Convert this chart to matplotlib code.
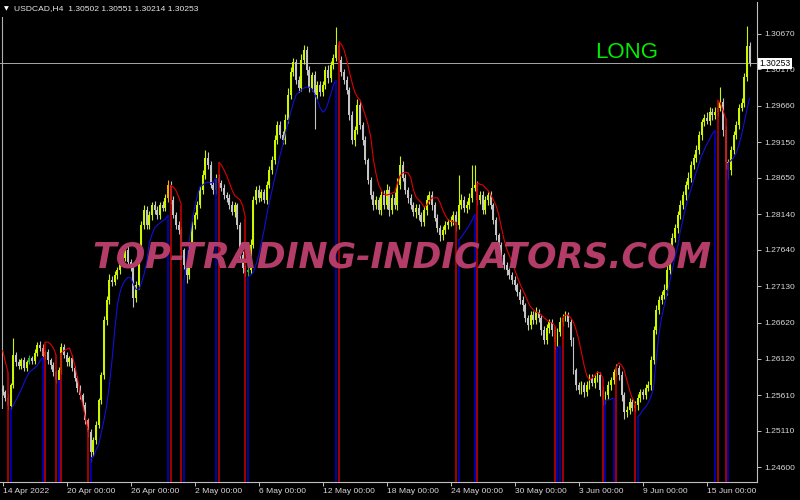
import numpy as np
import matplotlib
matplotlib.use("Agg")
import matplotlib.pyplot as plt
from matplotlib.transforms import blended_transform_factory

# ---------------- data ----------------
symbol = "USDCAD,H4"
first_open = 1.2571

closes = [
    1.2565, 1.2557, 1.2546, 1.2575, 1.2617, 1.2607, 1.2602, 1.2610, 1.2599, 1.2607,
    1.2613, 1.2609, 1.2620, 1.2631, 1.2627, 1.2616, 1.2621, 1.2610, 1.2603, 1.2593,
    1.2582, 1.2596, 1.2628, 1.2617, 1.2607, 1.2613, 1.2599, 1.2585, 1.2571, 1.2561,
    1.2547, 1.2526, 1.2509, 1.2481, 1.2498, 1.2519, 1.2554, 1.2589, 1.2666, 1.2694,
    1.2722, 1.2719, 1.2729, 1.2736, 1.2747, 1.2753, 1.2764, 1.2747, 1.2739, 1.2697,
    1.2715, 1.2757, 1.2799, 1.2820, 1.2799, 1.2813, 1.2827, 1.2820, 1.2813, 1.2827,
    1.2823, 1.2837, 1.2855, 1.2834, 1.2813, 1.2799, 1.2792, 1.2764, 1.2743, 1.2729,
    1.2764, 1.2799, 1.2813, 1.2827, 1.2848, 1.2869, 1.2893, 1.2883, 1.2855, 1.2848,
    1.2865, 1.2858, 1.2851, 1.2841, 1.2837, 1.2827, 1.2817, 1.2827, 1.2799, 1.2757,
    1.2739, 1.2733, 1.2736, 1.2771, 1.2834, 1.2848, 1.2837, 1.2845, 1.2834, 1.2855,
    1.2876, 1.2890, 1.2918, 1.2939, 1.2925, 1.2918, 1.2946, 1.2981, 1.3013, 1.3027,
    1.3002, 1.2991, 1.3030, 1.3044, 1.3016, 1.2991, 1.3009, 1.2981, 1.2995, 1.2985,
    1.2995, 1.3016, 1.3005, 1.3023, 1.3033, 1.3051, 1.3030, 1.3013, 1.3002, 1.2988,
    1.2953, 1.2918, 1.2932, 1.2967, 1.2939, 1.2918, 1.2890, 1.2862, 1.2841, 1.2827,
    1.2834, 1.2820, 1.2841, 1.2827, 1.2848, 1.2820, 1.2837, 1.2827, 1.2855, 1.2883,
    1.2865, 1.2848, 1.2837, 1.2827, 1.2817, 1.2823, 1.2813, 1.2803, 1.2820, 1.2834,
    1.2841, 1.2827, 1.2809, 1.2795, 1.2785, 1.2792, 1.2799, 1.2803, 1.2806, 1.2813,
    1.2799, 1.2827, 1.2834, 1.2823, 1.2827, 1.2837, 1.2851, 1.2855, 1.2834, 1.2841,
    1.2820, 1.2834, 1.2841, 1.2827, 1.2806, 1.2785, 1.2771, 1.2757, 1.2743, 1.2736,
    1.2729, 1.2722, 1.2715, 1.2705, 1.2694, 1.2687, 1.2669, 1.2659, 1.2673, 1.2666,
    1.2677, 1.2669, 1.2652, 1.2638, 1.2655, 1.2663, 1.2652, 1.2635, 1.2649, 1.2663,
    1.2669, 1.2673, 1.2663, 1.2638, 1.2596, 1.2575, 1.2568, 1.2575, 1.2565, 1.2575,
    1.2585, 1.2578, 1.2585, 1.2589, 1.2568, 1.2554, 1.2561, 1.2575, 1.2582, 1.2593,
    1.2599, 1.2589, 1.2561, 1.2537, 1.2540, 1.2551, 1.2543, 1.2547, 1.2557, 1.2565,
    1.2561, 1.2571, 1.2575, 1.2610, 1.2652, 1.2680, 1.2694, 1.2701, 1.2708, 1.2736,
    1.2764, 1.2781, 1.2795, 1.2813, 1.2827, 1.2841, 1.2855, 1.2865, 1.2883, 1.2893,
    1.2904, 1.2925, 1.2943, 1.2949, 1.2945, 1.2957, 1.2953, 1.2957, 1.2963, 1.2971,
    1.2932, 1.2887, 1.2876, 1.2904, 1.2925, 1.2939, 1.2963, 1.2970, 1.3006, 1.30502,
    1.30253,
]

hi_pips = [
    4, 3, 5, 3, 24, 4, 5, 3, 4, 3,
    4, 3, 5, 4, 6, 5, 3, 4, 3, 4,
    3, 4, 6, 5, 4, 3, 4, 3, 3, 4,
    3, 4, 3, 5, 4, 5, 3, 4, 6, 5,
    8, 6, 5, 4, 7, 6, 8, 5, 4, 3,
    5, 4, 6, 7, 5, 6, 4, 5, 6, 4,
    5, 6, 7, 6, 5, 4, 5, 4, 3, 5,
    6, 5, 4, 6, 5, 7, 11, 8, 5, 4,
    6, 5, 4, 5, 4, 6, 5, 4, 3, 4,
    5, 4, 6, 8, 5, 6, 7, 5, 4, 6,
    5, 6, 7, 5, 6, 5, 8, 10, 7, 6,
    5, 6, 8, 7, 5, 6, 4, 5, 6, 5,
    6, 5, 7, 6, 5, 25, 6, 5, 4, 5,
    4, 5, 6, 8, 5, 4, 5, 3, 4, 5,
    6, 4, 5, 7, 9, 5, 6, 8, 10, 12,
    5, 6, 4, 5, 4, 5, 6, 4, 5, 7,
    6, 5, 4, 5, 4, 6, 5, 4, 5, 6,
    5, 42, 8, 6, 5, 7, 32, 28, 6, 5,
    6, 5, 4, 5, 3, 4, 3, 4, 3, 4,
    3, 4, 5, 3, 4, 5, 3, 4, 6, 5,
    7, 5, 4, 5, 6, 5, 4, 5, 6, 7,
    5, 6, 4, 5, 4, 3, 4, 5, 4, 5,
    6, 5, 4, 5, 4, 5, 6, 5, 4, 5,
    6, 4, 5, 4, 5, 6, 4, 5, 6, 5,
    4, 5, 6, 5, 6, 7, 5, 6, 8, 9,
    8, 7, 6, 5, 7, 6, 5, 8, 6, 5,
    7, 6, 5, 6, 8, 7, 6, 7, 9, 21,
    6, 5, 4, 6, 5, 6, 5, 7, 6, 28,
    4.9,
]

lo_pips = [
    4, 5, 6, 5, 4, 6, 5, 4, 5, 4,
    3, 4, 5, 4, 5, 6, 4, 5, 6, 5,
    4, 6, 5, 4, 5, 6, 4, 5, 6, 5,
    6, 5, 7, 14, 6, 5, 4, 6, 5, 7,
    5, 6, 4, 5, 6, 5, 4, 6, 5, 13,
    6, 5, 4, 5, 6, 5, 7, 5, 6, 5,
    4, 5, 6, 5, 4, 6, 5, 7, 6, 11,
    5, 4, 6, 5, 4, 5, 6, 5, 4, 6,
    5, 6, 4, 5, 6, 5, 4, 7, 5, 6,
    7, 5, 6, 5, 4, 5, 6, 5, 4, 5,
    4, 5, 6, 5, 4, 6, 5, 4, 5, 6,
    5, 6, 4, 5, 7, 6, 5, 48, 6, 5,
    6, 5, 7, 6, 5, 4, 6, 5, 6, 5,
    7, 6, 8, 5, 6, 7, 5, 6, 5, 7,
    6, 5, 7, 6, 5, 8, 6, 5, 7, 6,
    5, 6, 7, 5, 6, 8, 7, 6, 5, 7,
    6, 7, 5, 6, 8, 7, 6, 5, 6, 7,
    8, 6, 5, 6, 7, 5, 6, 5, 7, 6,
    5, 6, 7, 5, 6, 7, 5, 6, 5, 7,
    6, 5, 7, 6, 5, 8, 6, 7, 5, 6,
    5, 6, 7, 6, 5, 7, 8, 9, 6, 5,
    6, 5, 7, 8, 6, 7, 5, 6, 7, 5,
    6, 5, 7, 6, 8, 7, 5, 6, 7, 5,
    6, 7, 8, 9, 7, 6, 5, 6, 7, 6,
    5, 6, 5, 7, 6, 5, 6, 5, 6, 7,
    6, 5, 6, 7, 5, 6, 7, 5, 6, 5,
    6, 5, 7, 6, 5, 6, 7, 5, 6, 5,
    8, 10, 12, 7, 6, 5, 6, 5, 6, 5,
    3.9,
]

# trailing line of the indicator (red above price in down legs, blue below in up legs)
trail = [
    1.2624, 1.2607, 1.2593, 1.2541, 1.2547, 1.2554, 1.2561, 1.2569, 1.2578, 1.2586,
    1.2593, 1.2596, 1.2599, 1.2602, 1.2609, 1.2614, 1.2635, 1.2635, 1.2632, 1.2627,
    1.2617, 1.2582, 1.2620, 1.2623, 1.2625, 1.2627, 1.2617, 1.2603, 1.2585, 1.2565,
    1.2547, 1.2529, 1.2512, 1.2473, 1.2474, 1.2484, 1.2492, 1.2509, 1.2526, 1.2547,
    1.2575, 1.2610, 1.2652, 1.2687, 1.2705, 1.2716, 1.2722, 1.2726, 1.2725, 1.2716,
    1.2709, 1.2708, 1.2718, 1.2730, 1.2747, 1.2775, 1.2786, 1.2795, 1.2799, 1.2802,
    1.2805, 1.2807, 1.2813, 1.2855, 1.2852, 1.2847, 1.2838, 1.2827, 1.2722, 1.2747,
    1.2778, 1.2803, 1.2824, 1.2840, 1.2853, 1.2855, 1.2858, 1.2859, 1.2858, 1.2859,
    1.2865, 1.2887, 1.2883, 1.2876, 1.2868, 1.2858, 1.2848, 1.2840, 1.2837, 1.2834,
    1.2826, 1.2809, 1.2726, 1.2729, 1.2733, 1.2744, 1.2757, 1.2774, 1.2792, 1.2813,
    1.2831, 1.2848, 1.2865, 1.2880, 1.2897, 1.2911, 1.2928, 1.2943, 1.2957, 1.2971,
    1.2981, 1.2985, 1.2988, 1.2991, 1.2992, 1.2992, 1.2989, 1.2982, 1.2974, 1.2963,
    1.2957, 1.2960, 1.2970, 1.2982, 1.2995, 1.3002, 1.3055, 1.3052, 1.3044, 1.3030,
    1.3013, 1.2998, 1.2985, 1.2978, 1.2974, 1.2963, 1.2952, 1.2939, 1.2922, 1.2890,
    1.2870, 1.2855, 1.2847, 1.2842, 1.2841, 1.2842, 1.2844, 1.2845, 1.2858, 1.2868,
    1.2872, 1.2873, 1.2872, 1.2865, 1.2848, 1.2838, 1.2834, 1.2830, 1.2824, 1.2827,
    1.2833, 1.2837, 1.2837, 1.2837, 1.2830, 1.2820, 1.2812, 1.2806, 1.2805, 1.2803,
    1.2803, 1.2778, 1.2782, 1.2788, 1.2793, 1.2799, 1.2806, 1.2814, 1.2858, 1.2856,
    1.2855, 1.2851, 1.2847, 1.2841, 1.2834, 1.2826, 1.2813, 1.2795, 1.2778, 1.2765,
    1.2756, 1.2746, 1.2736, 1.2726, 1.2716, 1.2708, 1.2700, 1.2691, 1.2684, 1.2680,
    1.2677, 1.2676, 1.2673, 1.2669, 1.2666, 1.2663, 1.2662, 1.2658, 1.2627, 1.2630,
    1.2670, 1.2673, 1.2673, 1.2669, 1.2663, 1.2652, 1.2638, 1.2620, 1.2602, 1.2588,
    1.2582, 1.2585, 1.2589, 1.2593, 1.2592, 1.2585, 1.2554, 1.2554, 1.2555, 1.2557,
    1.2600, 1.2606, 1.2603, 1.2596, 1.2582, 1.2568, 1.2557, 1.2550, 1.2530, 1.2534,
    1.2540, 1.2544, 1.2550, 1.2558, 1.2571, 1.2610, 1.2645, 1.2669, 1.2686, 1.2701,
    1.2718, 1.2736, 1.2753, 1.2768, 1.2789, 1.2806, 1.2823, 1.2837, 1.2848, 1.2861,
    1.2873, 1.2884, 1.2896, 1.2904, 1.2912, 1.2919, 1.2926, 1.2932, 1.2974, 1.2970,
    1.2960, 1.2949, 1.2886, 1.2889, 1.2893, 1.2900, 1.2911, 1.2925, 1.2942, 1.2960,
    1.2977,
]

# first bar of each trend leg; legs alternate down (red) / up (blue), starting down
leg_starts = [0, 3, 16, 21, 22, 33, 63, 68, 81, 92, 126, 171, 178, 208, 210, 226, 230, 238, 268, 272]

pink_bars = [2, 15, 32, 126, 178, 207, 225]
orange_bars = [62, 268, 272]
green_bars = [10, 92]

date_bars = [0, 24, 48, 72, 96, 120, 144, 168, 192, 216, 240, 264]
date_labels = ["14 Apr 2022", "20 Apr 00:00", "26 Apr 00:00", "2 May 00:00", "6 May 00:00",
               "12 May 00:00", "18 May 00:00", "24 May 00:00", "30 May 00:00", "3 Jun 00:00",
               "9 Jun 00:00", "15 Jun 00:00"]
price_ticks = [1.30670, 1.30170, 1.29660, 1.29150, 1.28650, 1.28140, 1.27640,
               1.27130, 1.26620, 1.26120, 1.25610, 1.25110, 1.24600]

signal_text = "LONG"
watermark = "TOP-TRADING-INDICATORS.COM"

# ---------------- drawing ----------------
BULL = "#ccf500"
BEAR = "#c4c4c4"
RED = "#e00000"
BLUE = "#1010d8"
AX = "#c0c0c0"
TXT = "#d8d8d8"

n = len(closes)
x = np.arange(n)
c = np.array(closes)
o = np.array([first_open] + closes[:-1])
h = np.maximum(o, c) + np.array(hi_pips) * 1e-4
l = np.minimum(o, c) - np.array(lo_pips) * 1e-4

cols = [BULL if c[i] >= o[i] else BEAR for i in range(n)]
for i in pink_bars:
    cols[i] = "#e88080"
for i in orange_bars:
    cols[i] = "#ffa500"
for i in green_bars:
    cols[i] = "#30b030"

fig = plt.figure(figsize=(8, 5), dpi=100, facecolor="black")
ax = fig.add_axes([0, 18 / 500, 757 / 800, 480 / 500])
ax.set_facecolor("black")

ax.vlines(x, l, h, colors=cols, linewidth=0.8, zorder=2)
body = c - o
body = np.where(np.abs(body) < 0.00006, 0.00006, body)
ax.bar(x, body, bottom=o, width=0.74, color=cols, linewidth=0, zorder=3)

# trail legs and signal verticals
tr = np.array(trail)
ymin_price = 1.24392
ends = leg_starts[1:] + [n]
for k, (s, e) in enumerate(zip(leg_starts, ends)):
    col = RED if k % 2 == 0 else BLUE
    vcol = "#c00000" if k % 2 == 0 else "#0000c8"
    xs = x[s:e]
    ax.plot(xs, tr[s:e], color=col, lw=0.8, zorder=4, solid_capstyle="butt")
    if k > 0:
        ax.vlines(s, ymin_price, tr[s], colors=vcol, lw=1.2, zorder=4)
    if e < n:
        ax.vlines(e - 1, ymin_price, tr[e - 1], colors=vcol, lw=1.2, zorder=4)

# current price line and label
last = closes[-1]
ax.axhline(last, color="#a8a8a8", lw=0.7, zorder=1)
tb = blended_transform_factory(ax.transAxes, ax.transData)
ax.text(1.003, last, f"{last:.5f}", transform=tb, ha="left", va="center",
        fontsize=6.2, family="Liberation Sans", color="black", zorder=6, clip_on=False,
        bbox=dict(boxstyle="square,pad=0.15", fc="white", ec="none"))

ax.set_xlim(-1.01, 282.8)
ax.set_ylim(ymin_price, 1.31112)

for sp in ["top", "left"]:
    ax.spines[sp].set_visible(False)
for sp in ["right", "bottom"]:
    ax.spines[sp].set_color(AX)
    ax.spines[sp].set_linewidth(0.8)

ax.yaxis.tick_right()
ax.set_yticks(price_ticks)
ax.set_yticklabels([f"{p:.5f}" for p in price_ticks])
ax.set_xticks(date_bars)
ax.set_xticklabels(date_labels, ha="left")
ax.tick_params(axis="both", colors=AX, labelcolor=TXT, length=3, width=0.7, labelsize=6.1)
ax.tick_params(axis="x", pad=1.5)
ax.tick_params(axis="y", pad=2)
for lab in ax.get_xticklabels() + ax.get_yticklabels():
    lab.set_family("Liberation Sans")

# left frame line
ax.plot([0.0026, 0.0026], [0.154, 0.969], transform=ax.transAxes, color="#b0b0b0", lw=0.8, zorder=1)

# header
hdr_o, hdr_h, hdr_l, hdr_c = o[-1], h[-1], l[-1], c[-1]
fig.text(3.5 / 800, 1 - 9 / 500, "\u25BC", fontsize=4.5, color="white", va="center", family="DejaVu Sans")
fig.text(14 / 800, 1 - 9 / 500,
         f"{symbol}  {hdr_o:.5f} {hdr_h:.5f} {hdr_l:.5f} {hdr_c:.5f}",
         fontsize=6.1, color="#e8e8e8", va="center", family="Liberation Sans")

# signal label
fig.text(595 / 800, 1 - 53 / 500, signal_text, fontsize=16, color="#00ee00",
         va="center", ha="left", family="Liberation Sans")

# watermark
fig.text(402 / 800, 1 - 268 / 500, watermark, fontsize=25, fontweight="bold", style="italic",
         color="#b33c68", ha="center", va="baseline", family="DejaVu Sans", zorder=10)

fig.savefig("out.png", dpi=100, facecolor="black")
